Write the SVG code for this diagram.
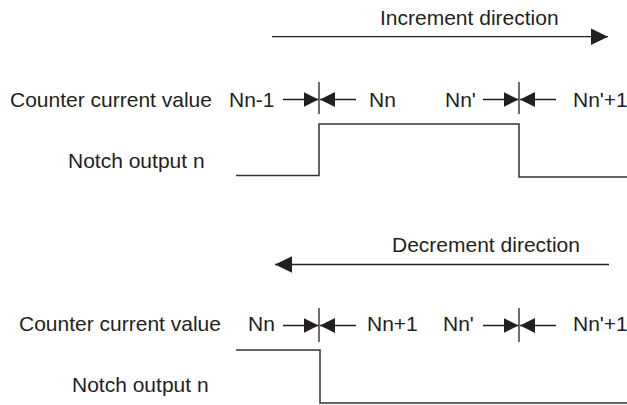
<svg xmlns="http://www.w3.org/2000/svg" width="627" height="405" viewBox="0 0 627 405">
<defs>
<style>
text{font-family:"Liberation Sans",Arial,sans-serif;font-size:21px;fill:#231f20}
.ln{stroke:#231f20;stroke-width:1.3;fill:none}
.sig{stroke:#333;stroke-width:1.5;fill:none}
</style>
<marker id="big" markerUnits="userSpaceOnUse" markerWidth="17" markerHeight="17" refX="17" refY="8.3" orient="auto">
<path d="M0,0 L17,8.3 L0,16.6 z" fill="#231f20"/>
</marker>
<marker id="sm" markerUnits="userSpaceOnUse" markerWidth="15" markerHeight="15" refX="15" refY="7.5" orient="auto">
<path d="M0,0 L15,7.5 L0,15 z" fill="#231f20"/>
</marker>
</defs>
<rect width="627" height="405" fill="#fff"/>
<g id="increment">
<text x="380" y="25">Increment direction</text>
<text x="10" y="107">Counter current value</text>
<text x="229" y="107">Nn-1</text>
<text x="369" y="107">Nn</text>
<text x="445" y="107">Nn'</text>
<text x="573" y="107">Nn'+1</text>
<text x="68" y="168">Notch output n</text>
</g>
<g id="decrement">
<text x="392" y="252">Decrement direction</text>
<text x="19" y="331">Counter current value</text>
<text x="248" y="331">Nn</text>
<text x="367" y="331">Nn+1</text>
<text x="443" y="331">Nn'</text>
<text x="573" y="331">Nn'+1</text>
<text x="72" y="392">Notch output n</text>
</g>
<g id="connectors">
<line class="ln" x1="272" y1="36.7" x2="608" y2="36.7" marker-end="url(#big)"/>
<line class="ln" x1="609" y1="264.5" x2="275" y2="264.5" marker-end="url(#big)"/>
<line class="ln" x1="283" y1="99.5" x2="318.5" y2="99.5" marker-end="url(#sm)"/>
<line class="ln" x1="356" y1="99.5" x2="320" y2="99.5" marker-end="url(#sm)"/>
<line class="ln" x1="319" y1="82" x2="319" y2="114"/>
<line class="ln" x1="483" y1="99.5" x2="518.5" y2="99.5" marker-end="url(#sm)"/>
<line class="ln" x1="556" y1="99.5" x2="520" y2="99.5" marker-end="url(#sm)"/>
<line class="ln" x1="519" y1="82" x2="519" y2="114"/>
<line class="ln" x1="283" y1="325.5" x2="318.5" y2="325.5" marker-end="url(#sm)"/>
<line class="ln" x1="356" y1="325.5" x2="320" y2="325.5" marker-end="url(#sm)"/>
<line class="ln" x1="319" y1="308" x2="319" y2="342"/>
<line class="ln" x1="483" y1="325.5" x2="518.5" y2="325.5" marker-end="url(#sm)"/>
<line class="ln" x1="556" y1="325.5" x2="520" y2="325.5" marker-end="url(#sm)"/>
<line class="ln" x1="519" y1="308" x2="519" y2="342"/>
<path class="sig" d="M236 175.5 H319 V124 H519 V177 H627"/>
<path class="sig" d="M236 350 H320 V403 H627"/>
</g>
</svg>
